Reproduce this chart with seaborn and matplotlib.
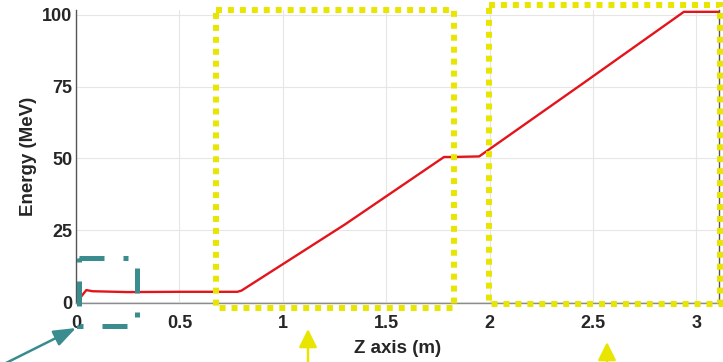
import matplotlib
matplotlib.use("Agg")
import matplotlib.pyplot as plt
import seaborn as sns
import pandas as pd
from matplotlib.patches import FancyArrowPatch
from matplotlib.lines import Line2D

# Data
z_m = [0.0, 0.02, 0.05, 0.08, 0.25, 0.50, 0.78, 0.80, 1.30, 1.78, 1.82, 1.95, 2.45, 2.94, 3.11]
energy_mev = [0.0, 1.5, 4.2, 3.8, 3.5, 3.6, 3.6, 4.0, 27.0, 50.5, 50.5, 50.7, 76.0, 101.0, 101.0]
x_ticks = [0, 0.5, 1, 1.5, 2, 2.5, 3]
x_tick_labels = ["0", "0.5", "1", "1.5", "2", "2.5", "3"]
y_ticks = [0, 25, 50, 75, 100]
y_tick_labels = ["0", "25", "50", "75", "100"]

df = pd.DataFrame({"z": z_m, "E": energy_mev})

sns.set_theme(style="white")
plt.rcParams["font.family"] = ["Liberation Sans", "DejaVu Sans"]

W, H = 723, 362
fig = plt.figure(figsize=(W / 100, H / 100), dpi=100)
ax = fig.add_axes([76 / W, 1 - 303.3 / H, (719 - 76) / W, (303.3 - 10.4) / H])

sns.lineplot(data=df, x="z", y="E", ax=ax, color="#E3151B", linewidth=1.7)

ax.set_xlim(0, 3.11)
ax.set_ylim(-0.4, 101.5)
ax.set_xticks(x_ticks)
ax.set_xticklabels(x_tick_labels, fontsize=13, fontweight="bold")
ax.set_yticks(y_ticks)
ax.set_yticklabels(y_tick_labels, fontsize=13, fontweight="bold")
ax.grid(True, color="#E6E6E6", linewidth=0.8)
ax.tick_params(direction="in", length=4, color="#8C8C8C")
ax.tick_params(axis="x", pad=8.5)
ax.tick_params(axis="y", pad=2.5)
ax.set_xlabel("Z axis (m)", fontsize=13.5, fontweight="bold", labelpad=6)
ax.set_ylabel("Energy (MeV)", fontsize=13.5, fontweight="bold", labelpad=3.5)
for s in ax.spines.values():
    s.set_color("#8C8C8C")
    s.set_linewidth(1.0)
ax.spines["left"].set_color("#555555")
ax.spines["right"].set_color("#555555")
ax.spines["top"].set_visible(False)

def fx(px):
    return px / W

def fy(py):
    return 1 - py / H

yellow = "#E8E600"
teal = "#3A8C8F"

def box(x0, y0, x1, y1, color, lw, dashes):
    xs = [fx(x0), fx(x1), fx(x1), fx(x0), fx(x0)]
    ys = [fy(y0), fy(y0), fy(y1), fy(y1), fy(y0)]
    ln = Line2D(xs, ys, transform=fig.transFigure, color=color, linewidth=lw,
                linestyle=(0, dashes), dash_capstyle="butt", dash_joinstyle="miter")
    fig.add_artist(ln)

# Yellow dotted boxes
box(216, 10, 454, 308, yellow, 4.3, (1, 1))
box(489, 5, 720, 304, yellow, 4.3, (1, 1))

# Teal dash-dot box near origin
box(79, 258, 137, 326, teal, 3.6, (5, 3.8, 1, 3.8))

# Arrows
fig.add_artist(FancyArrowPatch((fx(4), fy(364)), (fx(76), fy(328)),
                               transform=fig.transFigure,
                               arrowstyle="-|>,head_length=1.35,head_width=0.5",
                               color=teal, linewidth=1.8, mutation_scale=10,
                               shrinkA=0, shrinkB=0))
fig.add_artist(FancyArrowPatch((fx(308), fy(366)), (fx(308), fy(329)),
                               transform=fig.transFigure,
                               arrowstyle="-|>,head_length=1.1,head_width=0.55",
                               color=yellow, linewidth=1.8, mutation_scale=10,
                               shrinkA=0, shrinkB=0))
fig.add_artist(FancyArrowPatch((fx(607), fy(366)), (fx(607), fy(342)),
                               transform=fig.transFigure,
                               arrowstyle="-|>,head_length=1.1,head_width=0.55",
                               color=yellow, linewidth=1.8, mutation_scale=10,
                               shrinkA=0, shrinkB=0))

fig.savefig("out.png", dpi=100)
